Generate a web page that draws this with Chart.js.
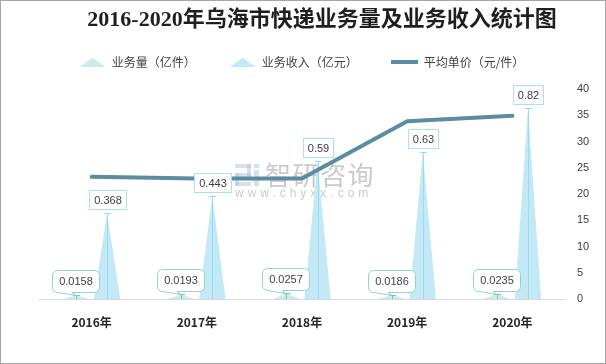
<!DOCTYPE html>
<html><head><meta charset="utf-8">
<script src="https://cdn.jsdelivr.net/npm/chart.js@4/dist/chart.umd.min.js"></script>
<style>
html,body{margin:0;padding:0;background:#fff;}
#wrap{width:606px;height:364px;box-sizing:border-box;border:1px solid #a6a6a6;background:#fff;}
canvas{display:block;}
</style></head><body>
<div id="wrap"><canvas id="c" width="604" height="362"></canvas></div>
<script>
// ---- data ----
const titleText = '2016-2020年乌海市快递业务量及业务收入统计图';
const categories = ['2016年', '2017年', '2018年', '2019年', '2020年'];
const volume = [0.0158, 0.0193, 0.0257, 0.0186, 0.0235];      // 业务量（亿件）
const revenue = [0.368, 0.443, 0.59, 0.63, 0.82];             // 业务收入（亿元）
const unitPrice = [23.29, 22.95, 22.96, 33.87, 34.89];        // 平均单价（元/件）
const priceTicks = [0, 5, 10, 15, 20, 25, 30, 35, 40];
const seriesNames = ['业务量（亿件）', '业务收入（亿元）', '平均单价（元/件）'];
const watermarkTexts = ['智研咨询', 'www.chyxx.com'];

// ---- styles ----
const CJK = '"Noto Sans CJK SC", sans-serif';
const NUM = '"Liberation Sans", Arial, sans-serif';
const volFill = '#ccede7', volStem = '#74c5b7', volBorder = '#93d4c9';
const revFill = '#c3e9f7', revStem = '#9cdaf0', revBorder = '#a9e0f3';
const lineColor = '#5b8ca1';

function triIcon(color) {
  const c = document.createElement('canvas');
  c.width = 25; c.height = 9;
  const x = c.getContext('2d');
  x.fillStyle = color;
  x.beginPath(); x.moveTo(0, 9); x.lineTo(12.5, 0); x.lineTo(25, 9); x.closePath(); x.fill();
  return c;
}
function lineIcon(color) {
  const c = document.createElement('canvas');
  c.width = 27; c.height = 4;
  const x = c.getContext('2d');
  x.fillStyle = color; x.fillRect(0, 0, 27, 4);
  return c;
}
const icons = [triIcon(volFill), triIcon(revFill), lineIcon(lineColor)];

const spikePlugin = {
  id: 'spikes',
  beforeDatasetsDraw(chart) {
    const ctx = chart.ctx;
    // watermark
    ctx.save();
    ctx.fillStyle = 'rgba(175,195,220,0.5)';
    const lx = 234, ly = 163;
    ctx.fillRect(lx, ly, 16, 4); ctx.fillRect(lx + 12, ly, 4, 12);
    ctx.fillRect(lx, ly + 9, 16, 4); ctx.fillRect(lx, ly + 9, 4, 13);
    ctx.fillRect(lx, ly + 18, 16, 4);
    ctx.fillRect(lx + 19, ly, 5, 4); ctx.fillRect(lx + 19, ly + 6, 5, 16);
    ctx.fillStyle = 'rgba(150,150,150,0.5)';
    ctx.font = '26px ' + CJK;
    ctx.textBaseline = 'middle'; ctx.textAlign = 'left';
    try { ctx.letterSpacing = '1.5px'; } catch (e) {}
    ctx.fillText(watermarkTexts[0], 264, 174);
    ctx.font = '12px ' + NUM;
    try { ctx.letterSpacing = '4px'; } catch (e) {}
    ctx.fillText(watermarkTexts[1], 234, 193);
    ctx.restore();

    const styles = [{fill: volFill, stem: volStem}, {fill: revFill, stem: revStem}];
    [0, 1].forEach(di => {
      const meta = chart.getDatasetMeta(di);
      const st = styles[di];
      meta.data.forEach(el => {
        const p = el.getProps(['x', 'y', 'base', 'width'], true);
        ctx.save();
        ctx.fillStyle = st.fill;
        ctx.beginPath();
        ctx.moveTo(p.x - p.width / 2, p.base);
        ctx.lineTo(p.x, p.y);
        ctx.lineTo(p.x + p.width / 2, p.base);
        ctx.closePath(); ctx.fill();
        ctx.strokeStyle = st.stem; ctx.lineWidth = 1;
        const sx = Math.round(p.x) + 0.5, sy = Math.round(p.y) + 0.5;
        ctx.beginPath(); ctx.moveTo(sx, p.base); ctx.lineTo(sx, sy); ctx.stroke();
        ctx.beginPath(); ctx.moveTo(sx - 3.5, sy); ctx.lineTo(sx + 3.5, sy); ctx.stroke();
        ctx.restore();
      });
    });
  },
  afterDatasetsDraw(chart) {
    const ctx = chart.ctx;
    ctx.save();
    ctx.font = '11px ' + NUM;
    ctx.textAlign = 'center'; ctx.textBaseline = 'middle';
    // revenue labels: plain boxes
    chart.getDatasetMeta(1).data.forEach((el, i) => {
      const p = el.getProps(['x', 'y'], true);
      const t = String(revenue[i]);
      const w = Math.round(ctx.measureText(t).width + 9), h = 19;
      const bx = Math.round(p.x - w / 2) + 0.5, by = Math.round(p.y - 4 - h) + 0.5;
      ctx.fillStyle = '#fff'; ctx.fillRect(bx, by, w, h);
      ctx.strokeStyle = revBorder; ctx.lineWidth = 1; ctx.strokeRect(bx, by, w, h);
      ctx.fillStyle = '#404040'; ctx.fillText(t, bx + w / 2, by + h / 2 + 0.5);
    });
    // volume labels: rounded callouts
    chart.getDatasetMeta(0).data.forEach((el, i) => {
      const p = el.getProps(['x', 'y'], true);
      const t = String(volume[i]);
      const w = Math.round(ctx.measureText(t).width + 13), h = 22, r = 5;
      const cx = Math.round(p.x);
      const bx = cx - Math.round(w / 2) + 0.5, by = Math.round(p.y - 3 - h) + 0.5;
      const bb = by + h;
      ctx.beginPath();
      ctx.moveTo(bx + r, by);
      ctx.lineTo(bx + w - r, by); ctx.arcTo(bx + w, by, bx + w, by + r, r);
      ctx.lineTo(bx + w, bb - r); ctx.arcTo(bx + w, bb, bx + w - r, bb, r);
      ctx.lineTo(cx - 4, bb);
      ctx.lineTo(cx, Math.round(p.y) + 0.5);
      ctx.lineTo(cx - 18, bb);
      ctx.lineTo(bx + r, bb); ctx.arcTo(bx, bb, bx, bb - r, r);
      ctx.lineTo(bx, by + r); ctx.arcTo(bx, by, bx + r, by, r);
      ctx.closePath();
      ctx.fillStyle = '#fff'; ctx.fill();
      ctx.strokeStyle = volBorder; ctx.lineWidth = 1; ctx.stroke();
      ctx.fillStyle = '#404040'; ctx.fillText(t, bx + w / 2, by + h / 2 + 0.5);
    });
    ctx.restore();
  }
};

new Chart(document.getElementById('c'), {
  data: {
    labels: categories,
    datasets: [
      {type: 'bar', label: seriesNames[0], data: volume, yAxisID: 'y', xAxisID: 'x',
       backgroundColor: 'rgba(0,0,0,0)', borderWidth: 0, categoryPercentage: 0.59, barPercentage: 0.85},
      {type: 'bar', label: seriesNames[1], data: revenue, yAxisID: 'y', xAxisID: 'x',
       backgroundColor: 'rgba(0,0,0,0)', borderWidth: 0, categoryPercentage: 0.59, barPercentage: 0.85},
      {type: 'line', label: seriesNames[2], data: unitPrice, yAxisID: 'y1', xAxisID: 'x',
       borderColor: lineColor, backgroundColor: lineColor, borderWidth: 4, pointRadius: 0,
       tension: 0, borderCapStyle: 'round', borderJoinStyle: 'round', fill: false}
    ]
  },
  options: {
    responsive: false, animation: false, events: [],
    layout: {padding: {top: 5.8, left: 38, right: 0, bottom: 17.6}},
    plugins: {
      tooltip: {enabled: false},
      title: {display: true, text: titleText, color: '#1f1f1f',
        font: {family: '"Liberation Serif", "Noto Sans CJK SC", serif', size: 22, weight: 'bold', lineHeight: 1.2},
        padding: {top: 0, bottom: -11.2}},
      legend: {display: true, position: 'top', fullSize: false,
        labels: {usePointStyle: true, pointStyleWidth: 26, boxHeight: 12, padding: 34,
          color: '#404040', font: {family: CJK, size: 12},
          generateLabels(chart) {
            const items = Chart.defaults.plugins.legend.labels.generateLabels(chart);
            items.forEach(it => { it.pointStyle = icons[it.datasetIndex]; });
            return items;
          }}}
    },
    scales: {
      x: {type: 'category', position: 'bottom', offset: true,
        grid: {display: false, drawTicks: false},
        border: {display: true, color: '#d9d9d9', width: 1},
        ticks: {color: '#262626', padding: 16, font: {family: CJK, size: 12, weight: 'bold'}}},
      xTop: {type: 'category', position: 'top', labels: categories,
        grid: {display: false, drawTicks: false}, border: {display: false},
        ticks: {display: false}, afterFit(s) { s.height = 11; }},
      y: {type: 'linear', display: false, min: 0, max: 0.9},
      y1: {type: 'linear', position: 'right', min: 0, max: 40,
        grid: {display: false, drawTicks: false}, border: {display: false},
        afterBuildTicks(s) { s.ticks = priceTicks.map(v => ({value: v})); },
        ticks: {color: '#404040', padding: 12, font: {family: NUM, size: 11}},
        afterFit(s) { s.width = 40; }}
    }
  },
  plugins: [spikePlugin]
});
</script>
</body></html>
